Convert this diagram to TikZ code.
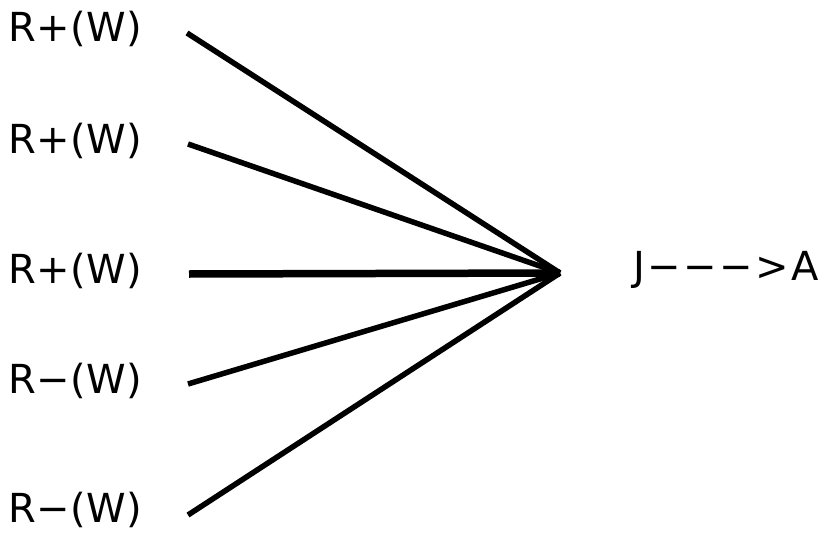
\documentclass[tikz,border=0pt]{standalone}
\usepackage{fontspec}
\setmainfont{DejaVu Sans}
\begin{document}
\begin{tikzpicture}[x=1pt,y=-1pt,
  lbl/.style={anchor=base west,inner sep=0pt,font=\fontsize{40}{40}\selectfont},
  ray/.style={line width=5.5pt},
  thickray/.style={line width=7.5pt}]
\useasboundingbox (0,0) rectangle (826,532);
\node[lbl] (l1) at (8,42) {R\kern0.5pt+\kern0.5pt(\kern0.5pt W\kern0.5pt)};
\node[lbl] (l2) at (8,153) {R\kern0.5pt+\kern0.5pt(\kern0.5pt W\kern0.5pt)};
\node[lbl] (l3) at (8,283) {R\kern0.5pt+\kern0.5pt(\kern0.5pt W\kern0.5pt)};
\node[lbl] (l4) at (8,393) {R\kern0.5pt−\kern0.5pt(\kern0.5pt W\kern0.5pt)};
\node[lbl] (l5) at (8,522) {R\kern0.5pt−\kern0.5pt(\kern0.5pt W\kern0.5pt)};
\node[lbl] (out) at (633,280) {J\kern2.4pt−\kern2.4pt−\kern2.4pt−\kern2.4pt>\kern2.4pt A};
\coordinate (hub) at (560,273);
\coordinate (s1) at (187,33);
\coordinate (s2) at (188,144);
\coordinate (s3) at (189,274);
\coordinate (s4) at (188,384);
\coordinate (s5) at (188,515);
\draw[ray] (s1) -- (hub);
\draw[ray] (s2) -- (hub);
\draw[thickray] (s3) -- (hub);
\draw[ray] (s4) -- (hub);
\draw[ray] (s5) -- (hub);
\end{tikzpicture}
\end{document}
